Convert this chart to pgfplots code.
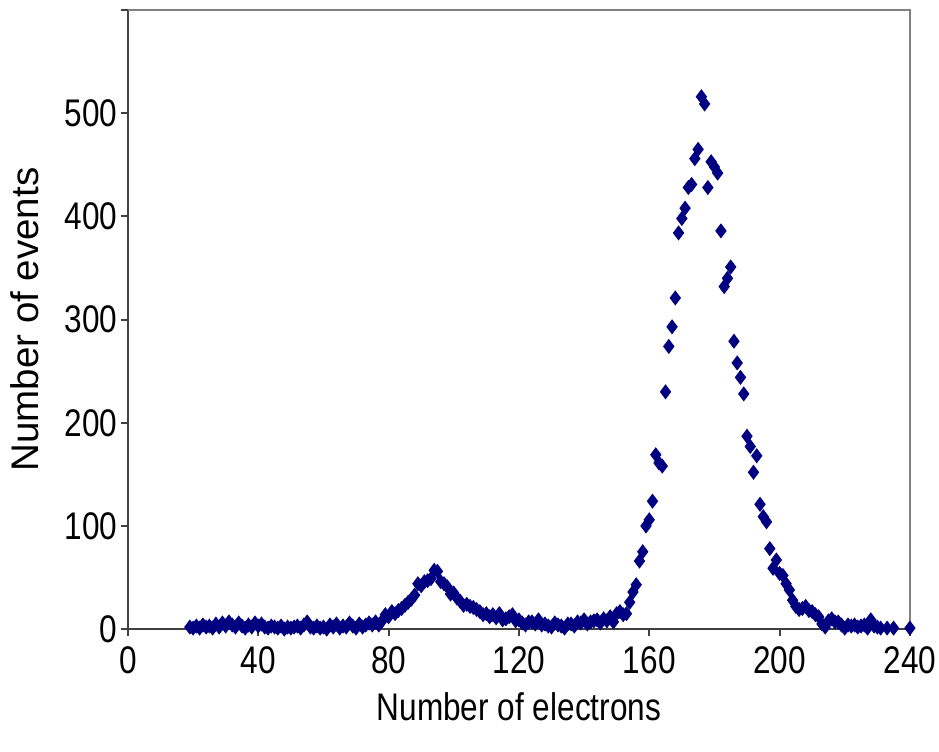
\documentclass[border=0pt]{standalone}
\usepackage{fontspec}
\setmainfont{Liberation Sans}[FakeStretch=0.82]
\newfontfamily\plainsans{Liberation Sans}
\usepackage{pgfplots}
\pgfplotsset{compat=1.18}
\definecolor{markblue}{RGB}{0,0,128}
\definecolor{axisgray}{RGB}{128,128,128}

\pgfplotstableread{
x y
19 2
20 1
21 3
22 1
23 4
24 2
25 3
26 1
27 5
28 2
29 6
30 3
31 7
32 4
33 2
34 6
35 3
36 1
37 4
38 2
39 6
40 3
41 5
42 2
43 1
44 3
45 2
46 1
47 3
48 0
49 2
50 1
51 2
52 3
53 1
54 4
55 7
56 2
57 1
58 3
59 1
60 2
61 0
62 4
63 2
64 5
65 1
66 3
67 2
68 6
69 3
70 1
71 5
72 2
73 4
74 6
75 4
76 7
77 4
78 8
79 14
80 12
81 17
82 15
83 18
84 20
85 23
86 26
87 29
88 33
89 44
90 42
91 46
92 47
93 49
94 57
95 56
96 46
97 44
98 41
99 34
100 35
101 30
102 27
103 23
104 24
105 22
106 21
107 19
108 17
109 14
110 15
111 12
112 14
113 11
114 15
115 9
116 10
117 12
118 14
119 8
120 9
121 6
122 4
123 7
124 7
125 5
126 9
127 4
128 5
129 3
130 2
131 6
132 4
133 3
134 1
135 5
136 5
137 3
138 7
139 6
140 9
141 5
142 7
143 8
144 9
145 6
146 10
147 8
148 12
149 7
150 15
151 17
152 14
153 15
154 26
155 36
156 43
157 66
158 75
159 100
160 106
161 124
162 169
163 161
164 158
165 230
166 274
167 293
168 321
169 384
170 398
171 408
172 428
173 431
174 456
175 465
176 516
177 509
178 428
179 453
180 448
181 442
182 386
183 332
184 340
185 351
186 279
187 258
188 244
189 228
190 187
191 177
192 152
193 168
194 121
195 109
196 104
197 78
198 59
199 67
200 54
201 52
202 44
203 38
204 28
205 22
206 19
207 20
208 22
209 18
210 17
211 14
212 12
213 5
214 2
215 8
216 10
217 7
218 7
219 4
220 1
221 4
222 3
223 4
224 2
225 3
226 4
227 1
228 9
229 3
230 2
231 1
233 1
235 1
240 1
}\electrons

\begin{document}
\begin{tikzpicture}
\begin{axis}[
    scale only axis,
    width=333.1pt,
    height=263.7pt,
    xmin=0, xmax=240,
    ymin=0, ymax=600,
    xtick={0,40,...,240},
    ytick={0,100,...,600},
    yticklabels={0,100,200,300,400,500,},
    axis lines*=left,
    axis line style={draw=black!75, line width=0.8pt},
    tick style={draw=black!75, line width=0.8pt},
    tick align=outside,
    major tick length=3pt,
    font=\fontsize{16.4}{19}\selectfont,
    /pgf/number format/assume math mode=true,
    /pgf/number format/1000 sep={},
    yticklabel style={xshift=2pt},
    xticklabel style={yshift=-1pt},
    xlabel={Number of electrons},
    ylabel={\plainsans Number of events},
    xlabel style={at={(axis description cs:0.5,-0.125)}, anchor=center},
    ylabel style={at={(axis description cs:-0.132,0.5)}, anchor=center},
    clip=false,
]
\draw[axisgray, line width=0.8pt] (rel axis cs:0,1) -- (rel axis cs:1,1) -- (rel axis cs:1,0);
\addplot[only marks, mark=diamond*, mark size=2.9pt, color=markblue]
    table[x=x, y=y] {\electrons};
\end{axis}
\pgfresetboundingbox
\path[use as bounding box] (current axis.south west) ++(-54.5pt,-52pt)
    rectangle ([shift={(12.4pt,4.3pt)}]current axis.north east);
\end{tikzpicture}
\end{document}
